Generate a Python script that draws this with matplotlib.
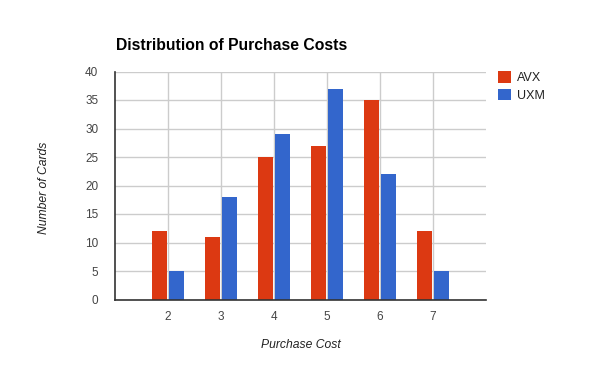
import matplotlib.pyplot as plt
import numpy as np

# Purchase cost categories and card counts per set
costs = [2, 3, 4, 5, 6, 7]
avx = [12, 11, 25, 27, 35, 12]
uxm = [5, 18, 29, 37, 22, 5]
series_names = ['AVX', 'UXM']
yticks = [0, 5, 10, 15, 20, 25, 30, 35, 40]

plt.rcParams['font.family'] = ['Liberation Sans', 'DejaVu Sans']

fig = plt.figure(figsize=(6, 3.71), dpi=100)
ax = fig.add_axes([115 / 600, 1 - 299.5 / 371, 371 / 600, 228 / 371])

x = np.array(costs)
w = 0.29
ax.bar(x - 0.155, avx, width=w, color='#dc3912', label=series_names[0], zorder=3)
ax.bar(x + 0.155, uxm, width=w, color='#3366cc', label=series_names[1], zorder=3)

ax.set_xlim(1, 8)
ax.set_ylim(0, 40)
ax.set_xticks(costs)
ax.set_yticks(yticks)
ax.tick_params(length=0, labelsize=8.5, colors='#444444')
ax.tick_params(axis='y', pad=12)
ax.tick_params(axis='x', pad=8)
ax.grid(True, color='#cccccc', linewidth=1, zorder=0)

for s in ['top', 'right']:
    ax.spines[s].set_visible(False)
for s in ['left', 'bottom']:
    ax.spines[s].set_color('#333333')
    ax.spines[s].set_linewidth(1.2)
    ax.spines[s].set_zorder(4)

fig.text(116 / 600, 1 - 45 / 371, 'Distribution of Purchase Costs', fontsize=11.3,
         fontweight='bold', va='center', ha='left', color='black')
fig.text(44 / 600, 1 - 188 / 371, 'Number of Cards', rotation=90, fontsize=8.7,
         style='italic', va='center', ha='center', color='#222222')
fig.text(301 / 600, 1 - 345 / 371, 'Purchase Cost', fontsize=8.7,
         style='italic', va='center', ha='center', color='#222222')

ax.legend(loc='upper left', bbox_to_anchor=(1.02, 1.022), frameon=False,
          fontsize=9, handlelength=1.0, handleheight=1.0, handletextpad=0.5,
          labelspacing=0.35, borderaxespad=0, labelcolor='#222222')

fig.savefig('out.png', dpi=100)
